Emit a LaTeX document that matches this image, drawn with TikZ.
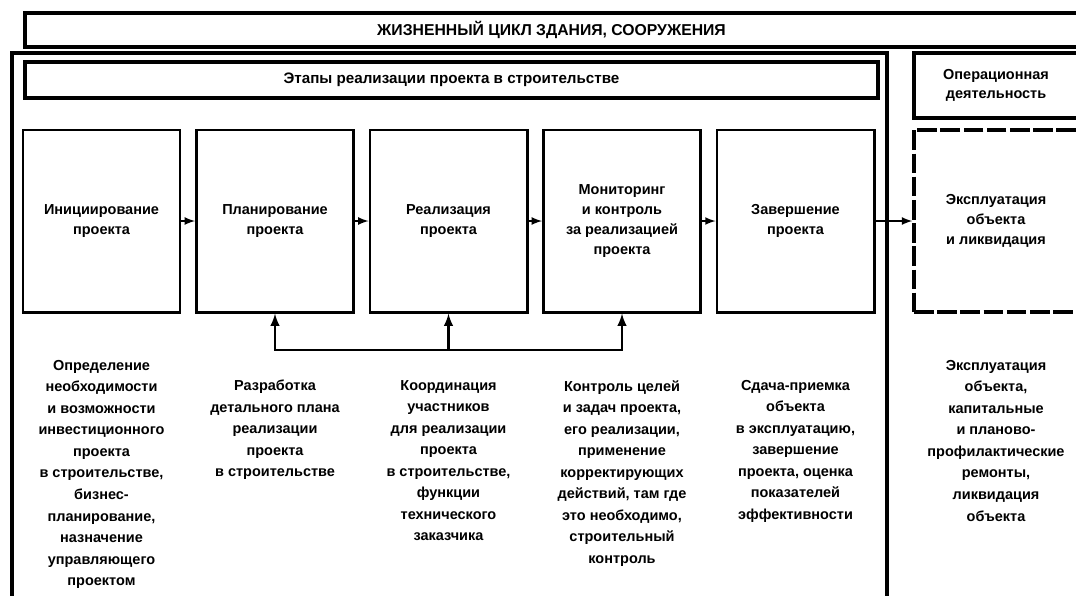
\documentclass[tikz,border=0pt]{standalone}
\usepackage{fontspec}
\setmainfont{Liberation Sans}
\usetikzlibrary{arrows}

\begin{document}
\begin{tikzpicture}[x=0.025cm,y=-0.025cm,
  frame/.style={draw,line width=2.5pt,align=center,font=\bfseries\fontsize{10.3}{13}\selectfont},
  stage/.style={draw,line width=2.1pt,minimum width=3.925cm,minimum height=4.55cm,align=center,font=\bfseries\fontsize{10.3}{14.2}\selectfont},
  note/.style={anchor=north,inner sep=0pt,align=center,font=\bfseries\fontsize{10.3}{15.3}\selectfont},
  link/.style={line width=1.5pt,-latex},
  feedback/.style={line width=2pt}]
\useasboundingbox (0,0) rectangle (1076,595);
\clip (0,0) rectangle (1076,595);
\coordinate (FLB) at (12,600);
\coordinate (FLT) at (12,53);
\coordinate (FRT) at (887,53);
\coordinate (FRB) at (887,600);
\draw [line width=2.2pt] (FLB) -- (FLT) -- (FRT) -- (FRB);
% headers
\node [frame,minimum width=26.325cm,minimum height=0.85cm,font=\bfseries\fontsize{11.2}{13}\selectfont] (life) at (551.5,30) {ЖИЗНЕННЫЙ ЦИКЛ ЗДАНИЯ, СООРУЖЕНИЯ};
\node [frame,minimum width=21.325cm,minimum height=0.9cm,font=\bfseries\fontsize{10.8}{13}\selectfont] (stages) at (451.5,80) {Этапы реализации проекта в строительстве};
\node [frame,minimum width=4.1cm,minimum height=1.625cm] (oper) at (996,85.5) {Операционная\\деятельность};
% stages
\node [stage] (init) at (101.5,221) {Инициирование\\проекта};
\node [stage] (plan) at (275,221) {Планирование\\проекта};
\node [stage] (real) at (448.5,221) {Реализация\\проекта};
\node [stage] (monit) at (622,221) {Мониторинг\\и контроль\\за реализацией\\проекта};
\node [stage] (close) at (795.5,221) {Завершение\\проекта};
\node [stage,minimum width=4.1cm,line width=2.5pt,dash pattern=on 14pt off 2.5pt] (exploit) at (996,221) {Эксплуатация\\объекта\\и ликвидация};
\draw [link] (init) -- (plan);
\draw [link] (plan) -- (real);
\draw [link] (real) -- (monit);
\draw [link] (monit) -- (close);
\draw [link] (close) -- (exploit);
% feedback
\coordinate (fbplan) at (275,350);
\coordinate (fbreal) at (448.5,350);
\coordinate (fbmonit) at (622,350);
\draw [feedback,latex-latex] (plan.south) -- (fbplan) -- (fbmonit) -- (monit.south);
\draw [feedback,-latex] (fbreal) -- (real.south);
% descriptions
\node [note] (dinit) at (101.5,360) {Определение\\необходимости\\и возможности\\инвестиционного\\проекта\\в строительстве,\\бизнес-\\планирование,\\назначение\\управляющего\\проектом};
\node [note] (dplan) at (275,380) {Разработка\\детального плана\\реализации\\проекта\\в строительстве};
\node [note] (dreal) at (448.5,380) {Координация\\участников\\для реализации\\проекта\\в строительстве,\\функции\\технического\\заказчика};
\node [note] (dmonit) at (622,380) {Контроль целей\\и задач проекта,\\его реализации,\\применение\\корректирующих\\действий, там где\\это необходимо,\\строительный\\контроль};
\node [note] (dclose) at (795.5,380) {Сдача-приемка\\объекта\\в эксплуатацию,\\завершение\\проекта, оценка\\показателей\\эффективности};
\node [note] (dexploit) at (996,360) {Эксплуатация\\объекта,\\капитальные\\и планово-\\профилактические\\ремонты,\\ликвидация\\объекта};
\end{tikzpicture}
\end{document}
